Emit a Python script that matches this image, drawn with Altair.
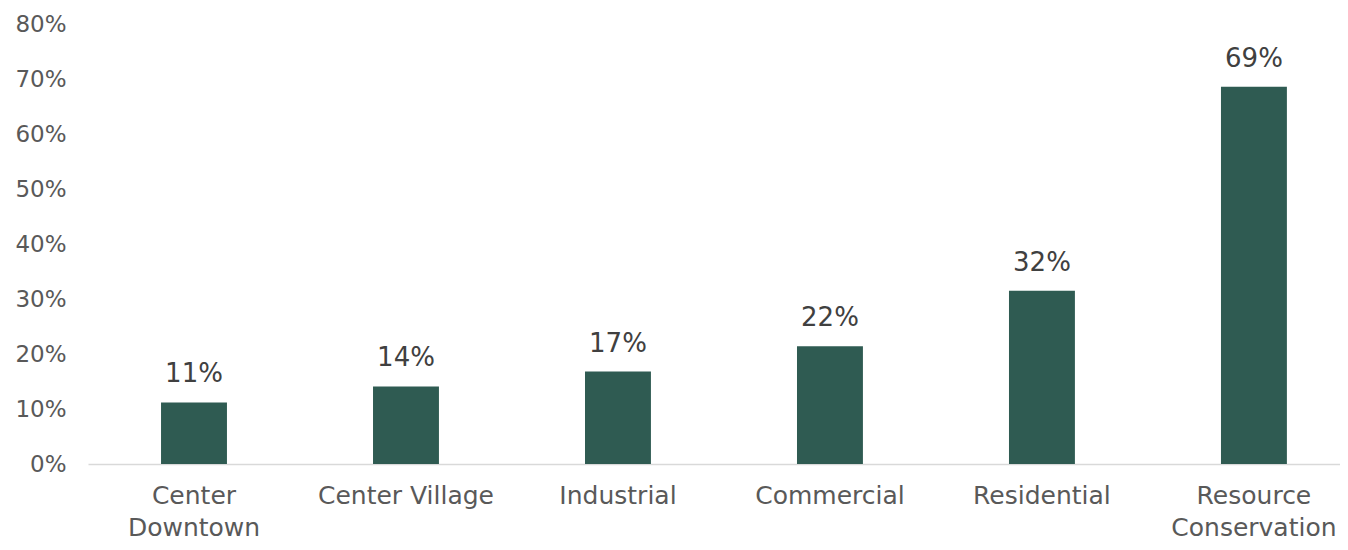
import altair as alt
import pandas as pd

categories = ["Center Downtown", "Center Village", "Industrial", "Commercial", "Residential", "Resource Conservation"]
values = [0.112, 0.141, 0.168, 0.214, 0.315, 0.686]
labels = ["11%", "14%", "17%", "22%", "32%", "69%"]
y_ticks = [0, 0.1, 0.2, 0.3, 0.4, 0.5, 0.6, 0.7, 0.8]

df = pd.DataFrame({"category": categories, "value": values, "label": labels})

FONT = "DejaVu Sans"

x_enc = alt.X(
    "category:N",
    sort=categories,
    title=None,
    scale=alt.Scale(paddingInner=0.689, paddingOuter=0.2975, align=0.579),
    axis=alt.Axis(
        labelAngle=0,
        labelFont=FONT,
        labelFontSize=25,
        labelColor="#595959",
        labelPadding=19,
        labelLineHeight=32,
        labelBaseline="top",
        labelLimit=400,
        ticks=False,
        domainColor="#d9d9d9",
        domainWidth=1.5,
        grid=False,
        labelExpr="datum.label == 'Center Downtown' ? ['Center', 'Downtown'] : datum.label == 'Resource Conservation' ? ['Resource', 'Conservation'] : datum.label",
    ),
)

y_enc = alt.Y(
    "value:Q",
    title=None,
    scale=alt.Scale(domain=[0, 0.8], nice=False),
    axis=alt.Axis(
        values=y_ticks,
        format=".0%",
        labelFont=FONT,
        labelFontSize=23,
        labelColor="#595959",
        labelPadding=22,
        ticks=False,
        domain=False,
        grid=False,
    ),
)

bars = alt.Chart(df).mark_bar(color="#2f5b52").encode(x=x_enc, y=y_enc)

text = alt.Chart(df).mark_text(
    font=FONT, fontSize=26, color="#404040", baseline="bottom", dy=-15
).encode(x=alt.X("category:N", sort=categories), y=alt.Y("value:Q"), text="label:N")

chart = (
    alt.layer(bars, text)
    .properties(
        width=1252,
        height=440,
        autosize=alt.AutoSizeParams(type="none"),
        padding={"left": 80, "top": 16, "right": 0, "bottom": 78},
        view=alt.ViewBackground(stroke="transparent", strokeWidth=0),
    )
    .configure_view(strokeWidth=0, stroke="transparent")
    .configure_axis(grid=False)
    .configure(background="white")
)

chart.save("out.html", embed_options={"renderer": "svg", "actions": False})
